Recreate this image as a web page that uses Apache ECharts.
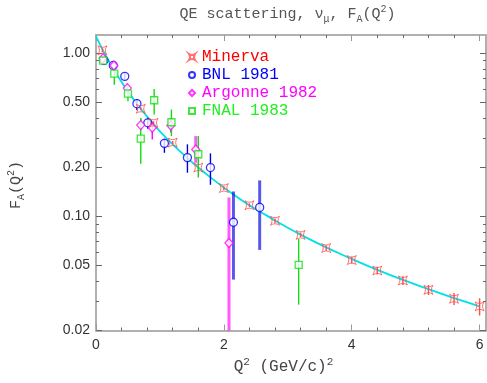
<!DOCTYPE html>
<html><head><meta charset="utf-8">
<script src="https://cdn.jsdelivr.net/npm/echarts@6/dist/echarts.min.js"></script>
<style>html,body{margin:0;padding:0;background:#fff}#c{width:487px;height:383px}</style>
</head><body><div id="c"></div>
<script>
// ---- data ----
const curveQ2 = [0, 0.1, 0.2, 0.3, 0.4, 0.5, 0.6, 0.7, 0.8, 0.9, 1.0, 1.2, 1.4, 1.6, 1.8, 2.0, 2.2, 2.4, 2.6, 2.8, 3.0, 3.2, 3.4, 3.6, 3.8, 4.0, 4.4, 4.8, 5.2, 5.6, 6.0];
const curveFA = [1.267, 1.056, 0.894, 0.767, 0.664, 0.581, 0.513, 0.456, 0.408, 0.367, 0.332, 0.276, 0.233, 0.199, 0.172, 0.150, 0.132, 0.117, 0.105, 0.0943, 0.0852, 0.0773, 0.0705, 0.0646, 0.0594, 0.0548, 0.0470, 0.0408, 0.0358, 0.0316, 0.0281];

const minervaQ2 = [0.1, 0.7, 0.9, 1.2, 1.6, 2.0, 2.4, 2.8, 3.2, 3.6, 4.0, 4.4, 4.8, 5.2, 5.6, 6.0];
const minervaFA = [1.04, 0.456, 0.374, 0.283, 0.199, 0.149, 0.117, 0.094, 0.077, 0.064, 0.054, 0.0466, 0.0405, 0.0355, 0.0313, 0.0281];
const minervaErr = [0.03, 0.01, 0.008, 0.006, 0.005, 0.004, 0.003, 0.003, 0.0025, 0.0025, 0.0025, 0.0025, 0.0025, 0.0025, 0.0026, 0.0034];

const bnlQ2 = [0.125, 0.27, 0.45, 0.64, 0.81, 1.07, 1.43, 1.79, 2.15, 2.56];
const bnlFA = [0.90, 0.84, 0.72, 0.49, 0.374, 0.28, 0.229, 0.199, 0.092, 0.1135];
const bnlLo = [0.86, 0.80, 0.69, 0.447, 0.344, 0.245, 0.185, 0.156, 0.041, 0.0623];
const bnlHi = [0.94, 0.88, 0.75, 0.524, 0.402, 0.299, 0.276, 0.243, 0.142, 0.166];

const argQ2 = [0.11, 0.28, 0.49, 0.70, 0.88, 1.17, 1.56, 2.08];
const argFA = [0.93, 0.84, 0.61, 0.362, 0.349, 0.36, 0.257, 0.0687];
const argLo = [0.90, 0.81, 0.57, 0.34, 0.296, 0.326, 0.213, 0.005];
const argHi = [0.96, 0.87, 0.65, 0.396, 0.374, 0.40, 0.31, 0.1305];

const fnalQ2 = [0.11, 0.286, 0.50, 0.70, 0.91, 1.18, 1.60, 3.17];
const fnalFA = [0.90, 0.748, 0.565, 0.299, 0.514, 0.377, 0.24, 0.0505];
const fnalLo = [0.86, 0.64, 0.507, 0.21, 0.42, 0.31, 0.173, 0.0288];
const fnalHi = [0.94, 0.83, 0.64, 0.40, 0.603, 0.451, 0.31, 0.0727];

const xMajorTicks = [0, 2, 4, 6];
const xMinorTicks = [0.4, 0.8, 1.2, 1.6, 2.4, 2.8, 3.2, 3.6, 4.4, 4.8, 5.2, 5.6];
const yMajorTicks = [0.02, 0.05, 0.1, 0.2, 0.5, 1.0];
const yMinorTicks = [0.03, 0.04, 0.06, 0.07, 0.08, 0.09, 0.3, 0.4, 0.6, 0.7, 0.8, 0.9];

// ---- chart ----
const X_MIN = 0, X_MAX = 6.1, Y_MIN = 0.02, Y_MAX = 1.29;
const zip = (a, b) => a.map((v, i) => [v, b[i]]);
const zip3 = (a, b, c) => a.map((v, i) => [v, b[i], c[i]]);

const AXIS_GRAY = '#b0b0b0', TICK = '#666';
const monoFont = 'Liberation Mono';
const sansFont = 'Liberation Sans';

function xAx(pos, ticks, len, showLine, showLabel) {
  return {
    type: 'value', min: X_MIN, max: X_MAX, position: pos,
    axisLine: { show: showLine, onZero: false, lineStyle: { color: AXIS_GRAY, width: 2 } },
    axisTick: { show: true, inside: true, length: len, customValues: ticks, lineStyle: { color: len > 4 ? '#999' : TICK, width: 1 } },
    axisLabel: { show: showLabel, customValues: ticks, margin: 8, color: '#333', fontFamily: sansFont, fontSize: 14 },
    splitLine: { show: false }
  };
}
function yAx(pos, ticks, len, showLine, showLabel) {
  return {
    type: 'log', logBase: 10, min: Y_MIN, max: Y_MAX, position: pos,
    axisLine: { show: showLine, onZero: false, lineStyle: { color: AXIS_GRAY, width: 2 } },
    axisTick: { show: true, inside: true, length: len, customValues: ticks, lineStyle: { color: TICK, width: 1 } },
    axisLabel: { show: showLabel, customValues: ticks, margin: 6, color: '#333', fontFamily: sansFont, fontSize: 14,
      formatter: v => Number(v).toFixed(2) },
    splitLine: { show: false }
  };
}

function errSeries(name, data, color, thick) {
  return {
    type: 'custom', name: name + ' err', z: 3, silent: true,
    data: data,
    encode: { x: 0, y: [1, 2] },
    renderItem: function (params, api) {
      const q = api.value(0);
      const lo = Math.max(api.value(1), Y_MIN);
      const hi = Math.min(api.value(2), Y_MAX);
      const p1 = api.coord([q, hi]);
      const p2 = api.coord([q, lo]);
      const isThick = thick.indexOf(params.dataIndex) >= 0;
      return {
        type: 'line',
        shape: { x1: p1[0], y1: p1[1], x2: p2[0], y2: p2[1] },
        style: { stroke: color, lineWidth: isThick ? 3 : 1.4, opacity: isThick ? 0.65 : 1 }
      };
    }
  };
}

const minervaLo = minervaFA.map((v, i) => v - minervaErr[i]);
const minervaHi = minervaFA.map((v, i) => v + minervaErr[i]);

const starPath = 'path://M-5,-5 Q0,-1.6 5,-5 Q1.6,0 5,5 Q0,1.6 -5,5 Q-1.6,0 -5,-5 Z';

const RED = '#ff4d4d', BLUE = '#0000ff', MAG = '#ff00ff', GREEN = '#11dd11';
const legendKeys = { 'Minerva': 'mi', 'BNL 1981': 'bn', 'Argonne 1982': 'ar', 'FNAL 1983': 'fn' };
const lt = (c) => ({ color: c, fontFamily: monoFont, fontSize: 16, lineHeight: 16, padding: [0, 0, 0, 2] });

const option = {
  animation: false,
  backgroundColor: '#fff',
  textStyle: { fontFamily: monoFont },
  grid: { left: 96, right: 1, top: 35, bottom: 52.5 },
  xAxis: [
    xAx('bottom', xMajorTicks, 6, true, true),
    xAx('bottom', xMinorTicks, 3, false, false),
    xAx('top', xMajorTicks, 6, true, false),
    xAx('top', xMinorTicks, 3, false, false)
  ],
  yAxis: [
    yAx('left', yMajorTicks, 6, true, true),
    yAx('left', yMinorTicks, 3, false, false),
    yAx('right', yMajorTicks, 6, true, false),
    yAx('right', yMinorTicks, 3, false, false)
  ],
  legend: {
    orient: 'vertical', left: 183, top: 44, itemWidth: 6, itemHeight: 6, itemGap: 2,
    data: ['Minerva', 'BNL 1981', 'Argonne 1982', 'FNAL 1983'],
    formatter: name => '{' + legendKeys[name] + '|' + name + '}',
    textStyle: {
      fontFamily: monoFont, fontSize: 16, lineHeight: 16,
      rich: { mi: lt('#ff0000'), bn: lt('#0000ff'), ar: lt('#ff00ff'), fn: lt('#22ee22') }
    }
  },
  graphic: [
    { type: 'text', x: 287.5, y: 14, style: {
      text: '{n|QE scattering, ν}{sub|μ}{n|, F}{sub|A}{n|(Q}{sup|2}{n|)}',
      textAlign: 'center', textVerticalAlign: 'middle',
      rich: {
        n: { fontFamily: monoFont, fontSize: 15, fill: '#555', lineHeight: 20, verticalAlign: 'middle' },
        sub: { fontFamily: monoFont, fontSize: 10, fill: '#555', lineHeight: 12, verticalAlign: 'bottom' },
        sup: { fontFamily: monoFont, fontSize: 10, fill: '#555', lineHeight: 12, verticalAlign: 'top' }
      } } },
    { type: 'text', x: 283.5, y: 367, style: {
      text: '{n|Q}{sup|2}{n| (GeV/c)}{sup|2}',
      textAlign: 'center', textVerticalAlign: 'middle',
      rich: {
        n: { fontFamily: monoFont, fontSize: 16, fill: '#444', lineHeight: 20, verticalAlign: 'middle' },
        sup: { fontFamily: monoFont, fontSize: 11, fill: '#444', lineHeight: 12, verticalAlign: 'top' }
      } } },
    { type: 'text', x: 16, y: 185, rotation: Math.PI / 2, style: {
      text: '{n|F}{sub|A}{n|(Q}{sup|2}{n|)}',
      textAlign: 'center', textVerticalAlign: 'middle',
      rich: {
        n: { fontFamily: monoFont, fontSize: 15, fill: '#444', lineHeight: 20, verticalAlign: 'middle' },
        sub: { fontFamily: monoFont, fontSize: 10, fill: '#444', lineHeight: 12, verticalAlign: 'bottom' },
        sup: { fontFamily: monoFont, fontSize: 10, fill: '#444', lineHeight: 12, verticalAlign: 'top' }
      } } }
  ],
  series: [
    { type: 'line', name: 'fit', data: zip(curveQ2, curveFA), showSymbol: false, smooth: 0.3,
      lineStyle: { color: '#00e0e8', width: 1.8 }, z: 2, silent: true },
    errSeries('Minerva', zip3(minervaQ2, minervaLo, minervaHi), RED, []),
    errSeries('BNL 1981', zip3(bnlQ2, bnlLo, bnlHi), '#0000dd', [8, 9]),
    errSeries('Argonne 1982', zip3(argQ2, argLo, argHi), MAG, [6, 7]),
    errSeries('FNAL 1983', zip3(fnalQ2, fnalLo, fnalHi), GREEN, []),
    { type: 'scatter', name: 'Minerva', data: zip(minervaQ2, minervaFA), symbol: starPath, symbolSize: 9, z: 5,
      itemStyle: { color: 'rgba(255,255,255,0)', borderColor: RED, borderWidth: 1 } },
    { type: 'scatter', name: 'BNL 1981', data: zip(bnlQ2, bnlFA), symbol: 'circle', symbolSize: 8, z: 4,
      itemStyle: { color: '#fff', borderColor: BLUE, borderWidth: 1.3 } },
    { type: 'scatter', name: 'Argonne 1982', data: zip(argQ2, argFA), symbol: 'diamond', symbolSize: [8, 9], z: 4,
      itemStyle: { color: '#fff', borderColor: MAG, borderWidth: 1.3 } },
    { type: 'scatter', name: 'FNAL 1983', data: zip(fnalQ2, fnalFA), symbol: 'rect', symbolSize: 7, z: 4,
      itemStyle: { color: '#fff', borderColor: GREEN, borderWidth: 1.3 } }
  ]
};

const chart = echarts.init(document.getElementById('c'), null, { renderer: 'canvas' });
chart.setOption(option);
</script>
</body></html>
